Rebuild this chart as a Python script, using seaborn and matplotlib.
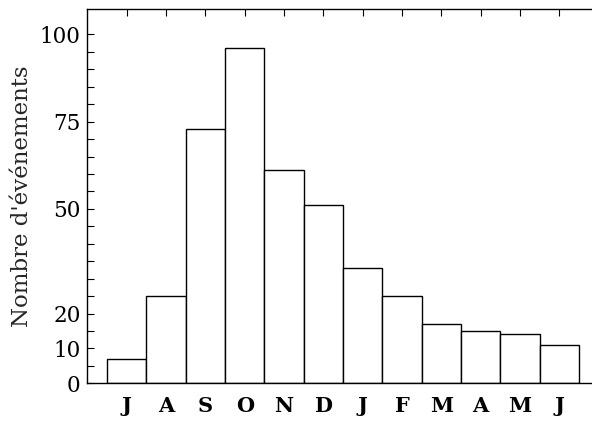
import numpy as np
import pandas as pd
import seaborn as sns
import matplotlib.pyplot as plt
from matplotlib.ticker import FixedLocator, FixedFormatter

# Données
mois = ['Juil', 'Août', 'Sept', 'Oct', 'Nov', 'Déc',
        'Janv', 'Févr', 'Mars', 'Avr', 'Mai', 'Juin']
lettres = ['J', 'A', 'S', 'O', 'N', 'D', 'J', 'F', 'M', 'A', 'M', 'J']
evenements = [7, 25, 73, 96, 61, 51, 33, 25, 17, 15, 14, 11]

yticks = list(range(0, 105, 5))
ylabels_montres = [0, 10, 20, 50, 75, 100]

df = pd.DataFrame({'mois': mois, 'n': evenements})

sns.set_style('ticks')
plt.rcParams['font.family'] = ['DejaVu Serif']

fig = plt.figure(figsize=(5.92, 4.21), dpi=100)
ax = fig.add_axes([0.1478, 0.0895, 0.8522, 0.8884])

sns.barplot(data=df, x='mois', y='n', order=mois, width=1.0,
            color='white', edgecolor='black', linewidth=1.0, ax=ax)

ax.set_xlim(-1.0, 11.83)
ax.set_ylim(0, 107.2)
ax.set_xticks(range(len(mois)))
ax.set_xticklabels(lettres, fontsize=15, fontweight='bold')
ax.yaxis.set_major_locator(FixedLocator(yticks))
ax.yaxis.set_major_formatter(FixedFormatter(
    [str(v) if v in ylabels_montres else '' for v in yticks]))
ax.tick_params(axis='y', labelsize=15.5, direction='in', length=5,
               width=0.8, pad=5, colors='black')
ax.tick_params(axis='x', direction='in', length=5, width=0.8, pad=9,
               top=True, colors='black')
ax.set_xlabel('')
ax.set_ylabel("Nombre d'événements", fontsize=16.5, labelpad=5)

for side in ['left', 'top', 'bottom']:
    ax.spines[side].set_visible(True)
    ax.spines[side].set_color('black')
    ax.spines[side].set_linewidth(1.0)
ax.spines['right'].set_visible(False)

fig.savefig('out.png', dpi=100)
